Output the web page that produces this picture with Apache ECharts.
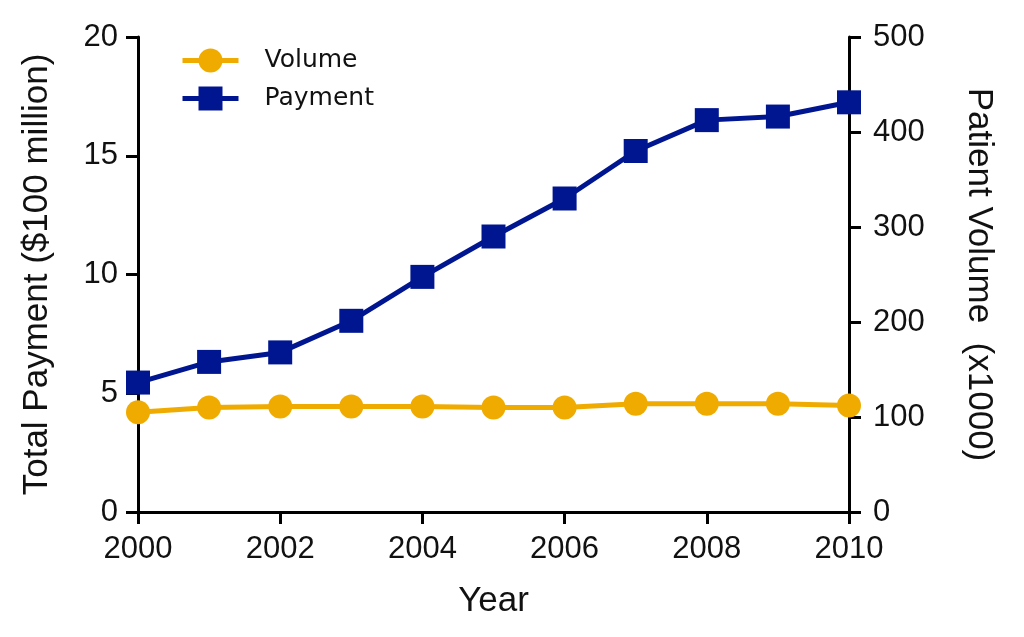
<!DOCTYPE html>
<html>
<head>
<meta charset="utf-8">
<script src="https://cdn.jsdelivr.net/npm/echarts@6/dist/echarts.min.js"></script>
<style>html,body{margin:0;padding:0;background:#fff;}#c{width:1024px;height:637px;}</style>
</head>
<body>
<div id="c"></div>
<script>
const years = [2000, 2001, 2002, 2003, 2004, 2005, 2006, 2007, 2008, 2009, 2010];
const payment = [5.45, 6.32, 6.72, 8.05, 9.9, 11.6, 13.2, 15.2, 16.5, 16.65, 17.25];
const volume = [105, 110, 111, 111, 111, 110, 110, 114, 114, 114, 112];
const xTicks = [2000, 2002, 2004, 2006, 2008, 2010];
const leftTicks = [0, 5, 10, 15, 20];
const rightTicks = [0, 100, 200, 300, 400, 500];

const BLUE = '#001690';
const ORANGE = '#F0AB00';
const nameFont = {fontFamily: '"Liberation Sans", Arial, sans-serif', fontSize: 35, color: '#111'};
const tickFont = {fontFamily: '"Liberation Sans", Arial, sans-serif', fontSize: 31, color: '#111'};
const axisLine = {show: true, lineStyle: {color: '#000', width: 3}};
const axisTick = {show: true, length: 12, lineStyle: {color: '#000', width: 3}};

const chart = echarts.init(document.getElementById('c'));
chart.setOption({
  animation: false,
  backgroundColor: '#fff',
  grid: {left: 138, right: 175, top: 37, bottom: 125, containLabel: false},
  legend: {
    orient: 'vertical', left: 180, top: 48, padding: 0,
    itemWidth: 56, itemHeight: 30, itemGap: 13,
    lineStyle: {width: 5},
    textStyle: {fontFamily: '"DejaVu Sans", sans-serif', fontSize: 25, color: '#111', padding: [0, 0, 0, 21]},
    data: ['Volume', 'Payment']
  },
  xAxis: {
    type: 'value', min: xTicks[0], max: xTicks[xTicks.length - 1], interval: 2,
    name: 'Year', nameLocation: 'middle', nameGap: 72, nameTextStyle: nameFont,
    axisLine: axisLine, axisTick: axisTick, splitLine: {show: false},
    axisLabel: Object.assign({margin: 22, formatter: v => String(v)}, tickFont)
  },
  yAxis: [
    {
      type: 'value', position: 'left', min: leftTicks[0], max: leftTicks[leftTicks.length - 1], interval: 5,
      name: 'Total Payment ($100 million)', nameLocation: 'middle', nameGap: 83, nameTextStyle: nameFont,
      axisLine: axisLine, axisTick: axisTick, splitLine: {show: false},
      axisLabel: Object.assign({margin: 20}, tickFont)
    },
    {
      type: 'value', position: 'right', min: rightTicks[0], max: rightTicks[rightTicks.length - 1], interval: 100,
      name: 'Patient Volume  (x1000)', nameLocation: 'middle', nameGap: 112, nameRotate: -90, nameTextStyle: nameFont,
      axisLine: axisLine, axisTick: axisTick, splitLine: {show: false},
      axisLabel: Object.assign({margin: 24}, tickFont)
    }
  ],
  series: [
    {
      name: 'Volume', type: 'line', yAxisIndex: 1,
      data: years.map((y, i) => [y, volume[i]]),
      symbol: 'circle', symbolSize: 24, clip: false,
      lineStyle: {color: ORANGE, width: 5}, itemStyle: {color: ORANGE}, z: 3
    },
    {
      name: 'Payment', type: 'line', yAxisIndex: 0,
      data: years.map((y, i) => [y, payment[i]]),
      symbol: 'rect', symbolSize: 24, clip: false,
      lineStyle: {color: BLUE, width: 5}, itemStyle: {color: BLUE}, z: 4
    }
  ]
});
</script>
</body>
</html>
